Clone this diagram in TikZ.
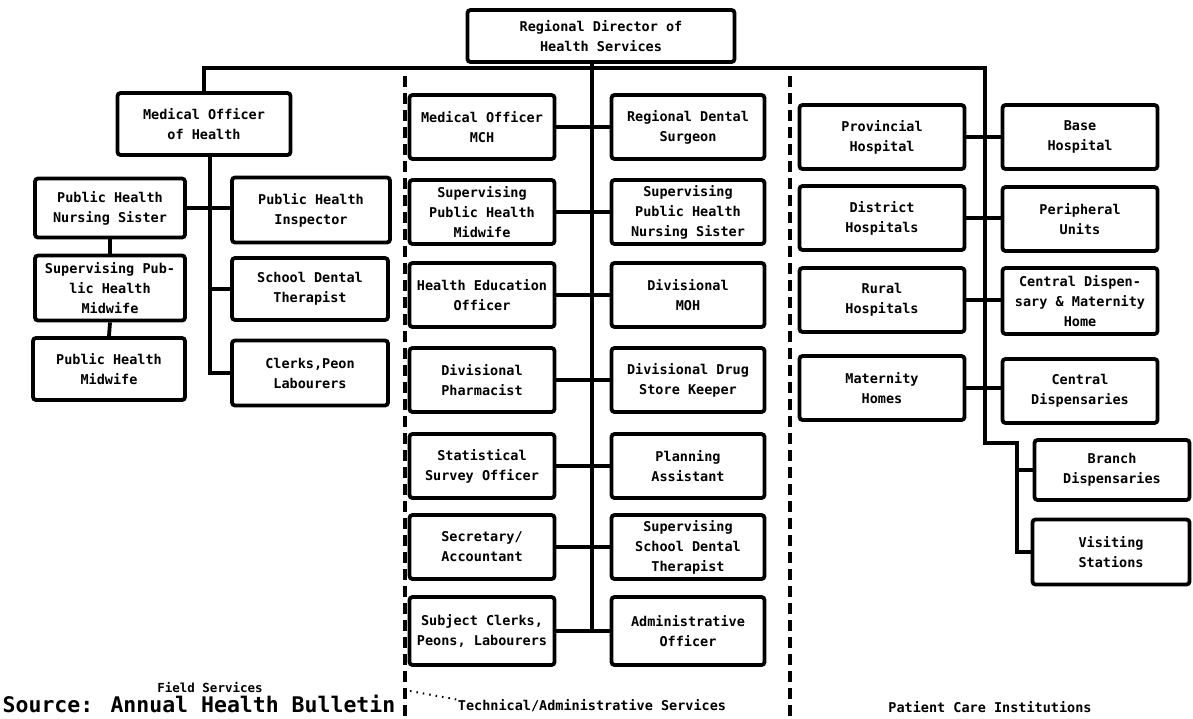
\documentclass[tikz,border=0pt]{standalone}
\usepackage{fontspec}
\newfontfamily\chartfont{DejaVu Sans Mono}
\begin{document}
\begin{tikzpicture}[x=1pt,y=-1pt,
  unit/.style={draw, line width=3.8pt, rounded corners=3pt, inner sep=0pt,
    align=center, minimum height=64pt,
    font=\chartfont\bfseries\fontsize{13.5}{20}\selectfont},
  link/.style={line width=3.8pt},
  divider/.style={line width=3.5pt, dash pattern=on 11pt off 6pt},
  caption/.style={inner sep=0pt, font=\chartfont\bfseries\fontsize{13.5}{16}\selectfont},
  dots/.style={line width=2pt, dash pattern=on 1.5pt off 5pt}]
\useasboundingbox (0,0) rectangle (1193,718);

% head of the organisation
\node[unit, minimum width=267pt, minimum height=52pt] (rd) at (601,36) {Regional Director of\\Health Services};

% ---------- field services ----------
\node[unit, minimum width=173pt, minimum height=62pt] (moh) at (204,124) {Medical Officer\\of Health};
\node[unit, minimum width=150pt, minimum height=59pt] (phns) at (110,208) {Public Health\\Nursing Sister};
\node[unit, minimum width=150pt, minimum height=65pt] (sphm) at (110,288) {Supervising Pub-\\lic Health\\Midwife};
\node[unit, minimum width=152pt, minimum height=62pt] (phm) at (109,369) {Public Health\\Midwife};
\node[unit, minimum width=158pt, minimum height=65pt] (phi) at (311,210) {Public Health\\Inspector};
\node[unit, minimum width=156pt, minimum height=62pt] (sdt) at (310,289) {School Dental\\Therapist};
\node[unit, minimum width=156pt, minimum height=65pt] (clk) at (310,373) {Clerks,Peon\\Labourers};

% ---------- technical / administrative services ----------
\node[unit, minimum width=145pt] (t1) at (482,127) {Medical Officer\\MCH};
\node[unit, minimum width=145pt] (t2) at (482,212) {Supervising\\Public Health\\Midwife};
\node[unit, minimum width=145pt] (t3) at (482,295) {Health Education\\Officer};
\node[unit, minimum width=145pt] (t4) at (482,380) {Divisional\\Pharmacist};
\node[unit, minimum width=145pt] (t5) at (482,466) {Statistical\\Survey Officer};
\node[unit, minimum width=145pt] (t6) at (482,547) {Secretary/\\Accountant};
\node[unit, minimum width=145pt, minimum height=68pt] (t7) at (482,631) {Subject Clerks,\\Peons, Labourers};
\node[unit, minimum width=153pt] (a1) at (688,127) {Regional Dental\\Surgeon};
\node[unit, minimum width=153pt] (a2) at (688,212) {Supervising\\Public Health\\Nursing Sister};
\node[unit, minimum width=153pt] (a3) at (688,295) {Divisional\\MOH};
\node[unit, minimum width=153pt] (a4) at (688,380) {Divisional Drug\\Store Keeper};
\node[unit, minimum width=153pt] (a5) at (688,466) {Planning\\Assistant};
\node[unit, minimum width=153pt] (a6) at (688,547) {Supervising\\School Dental\\Therapist};
\node[unit, minimum width=153pt, minimum height=68pt] (a7) at (688,631) {Administrative\\Officer};

% ---------- patient care institutions ----------
\node[unit, minimum width=165pt] (p1) at (882,137) {Provincial\\Hospital};
\node[unit, minimum width=165pt] (p2) at (882,218) {District\\Hospitals};
\node[unit, minimum width=165pt] (p3) at (882,300) {Rural\\Hospitals};
\node[unit, minimum width=165pt] (p4) at (882,388) {Maternity\\Homes};
\node[unit, minimum width=155pt] (q1) at (1080,137) {Base\\Hospital};
\node[unit, minimum width=155pt] (q2) at (1080,219) {Peripheral\\Units};
\node[unit, minimum width=155pt, minimum height=66pt] (q3) at (1080,301) {Central Dispen-\\sary \& Maternity\\Home};
\node[unit, minimum width=155pt] (q4) at (1080,391) {Central\\Dispensaries};
\node[unit, minimum width=155pt, minimum height=60pt] (bd) at (1112,470) {Branch\\Dispensaries};
\node[unit, minimum width=157pt, minimum height=65pt] (vs) at (1111,552) {Visiting\\Stations};

% connector reference points
\coordinate (busR) at (985,68);
\coordinate (jogA) at (985,443);
\coordinate (jogB) at (1017,443);
\coordinate (fv) at (210,0);
\coordinate (mt) at (592,631);

% main bus and patient-care spine
\draw[link] (moh.north) |- (busR) -- (jogA) -- (jogB) |- (vs.west);
\draw[link] (jogB |- bd.west) -- (bd.west);
\foreach \l/\r in {p1/q1,p2/q2,p3/q3,p4/q4}
  \draw[link] (\l.east) -- (\l.east -| \r.west);

% field services links
\draw[link] (moh.south -| fv) |- (clk.west);
\draw[link] (phns.east) -- (phns.east -| phi.west);
\draw[link] (sdt.west -| fv) -- (sdt.west);
\draw[link] (phns.south) -- (sphm.north);
\draw[link] (sphm.south) -- (phm.north);

% technical / administrative trunk
\draw[link] (rd.south -| mt) -- (mt);
\foreach \l/\r in {t1/a1,t2/a2,t3/a3,t4/a4,t5/a5,t6/a6,t7/a7}
  \draw[link] (\l.east) -- (\r.west);

% section dividers
\coordinate (dl1) at (405,76);
\coordinate (dl2) at (405,718);
\coordinate (dr1) at (790,76);
\coordinate (dr2) at (790,718);
\draw[divider] (dl1) -- (dl2);
\draw[divider] (dr1) -- (dr2);

% section captions
\node[inner sep=0pt, font=\chartfont\bfseries\fontsize{12.5}{14}\selectfont] (fs) at (210,687) {Field Services};
\node[inner sep=0pt, font=\chartfont\bfseries\fontsize{21.5}{24}\selectfont] (src) at (199,704) {Source: Annual Health Bulletin};
\node[caption] (tas) at (592,706) {Technical/Administrative Services};
\node[caption] (pci) at (990,707) {Patient Care Institutions};
\coordinate (dotA) at (410,691);
\draw[dots] (dotA) -- (tas.north west);
\end{tikzpicture}
\end{document}
